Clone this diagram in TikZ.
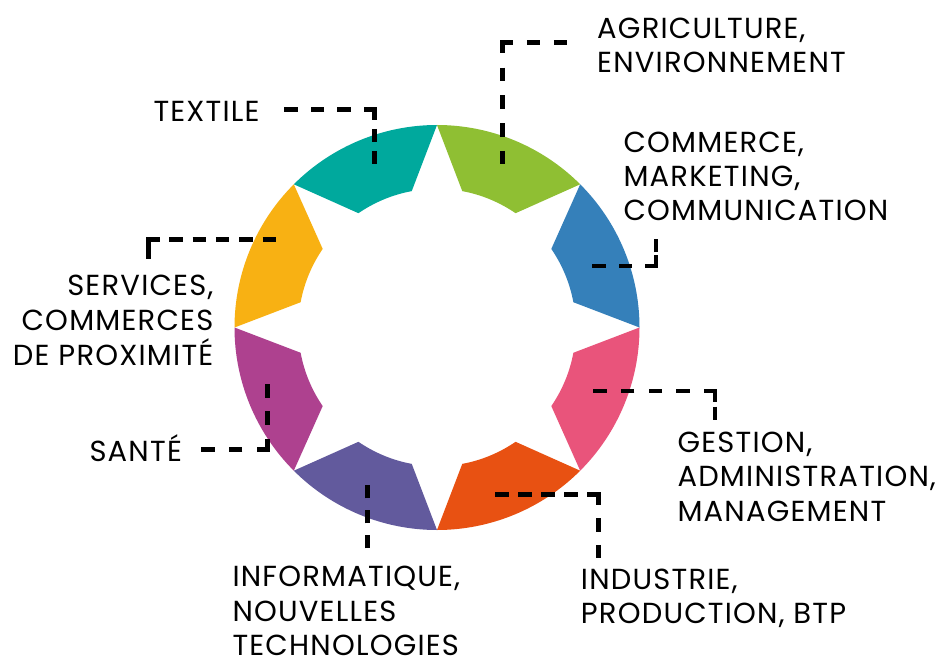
\documentclass[tikz,border=0pt]{standalone}
\usepackage{fontspec}
\setmainfont[LetterSpace=4.2]{Poppins}
\usetikzlibrary{calc}
\definecolor{cteal}{HTML}{00A99D}
\definecolor{cgreen}{HTML}{8FBF33}
\definecolor{cblue}{HTML}{3580BA}
\definecolor{cpink}{HTML}{E9547B}
\definecolor{corange}{HTML}{E85112}
\definecolor{cpurple}{HTML}{625A9D}
\definecolor{cmagenta}{HTML}{AE418F}
\definecolor{cyellow}{HTML}{F8B113}
\tikzset{
  lbl/.style={inner sep=0pt, font=\fontsize{29}{34}\selectfont, text=black},
  lblL/.style={lbl, anchor=base west},
  lblR/.style={lbl, anchor=base east},
  dashline/.style={line width=4.5pt, dash pattern=on 13.5pt off 11.5pt, black}
}
% dashed leg from a corner (#1) to a free end (#2): a part dash at the corner, a full dash at the end
\newcommand\dleg[2]{%
  \path let \p1=($(#2)-(#1)$) in \pgfextra{\pgfmathsetmacro\dlen{veclen(\x1,\y1)}\xdef\dlenglob{\dlen}};%
  \pgfmathsetmacro\dnum{max(1,round((\dlenglob-11)/25))}%
  \pgfmathsetmacro\dgap{(\dlenglob-11)/\dnum-13.5}%
  \draw[line width=4.5pt, black, dash pattern=on 13.5pt off \dgap pt, dash phase=2.5pt] (#1) -- (#2);%
}
\newcommand\dcorner[1]{\fill[black] (#1) +(-2.25pt,-2.25pt) rectangle +(2.25pt,2.25pt);}
\begin{document}
\begin{tikzpicture}[x=1pt,y=1pt]
\useasboundingbox (0,0) rectangle (939,657);
\fill[white] (0,0) rectangle (939,657);
\coordinate (C) at (437,329.5);
% segments
\foreach \a/\col in {90/cteal,45/cgreen,0/cblue,-45/cpink,-90/corange,-135/cpurple,180/cmagenta,135/cyellow}{
  \pgfmathsetmacro{\b}{\a+45}
  \pgfmathsetmacro{\ia}{\a+10.5}
  \pgfmathsetmacro{\ib}{\a+45-10.5}
  \fill[\col] ($(C)+(\a:202.5pt)$) arc[start angle=\a, end angle=\b, radius=202.5pt]
    -- ($(C)+(\ib:138.7pt)$) arc[start angle=\ib, end angle=\ia, radius=138.7pt] -- cycle;
}
% connector end points and corners
\coordinate (t1) at (284,547.5);   \coordinate (t2) at (374.5,492.5);
\coordinate (a1) at (567.3,614.7); \coordinate (a2) at (502.3,492.5);
\coordinate (c1) at (592,391);     \coordinate (c2) at (656,418);
\coordinate (s1) at (276,417.7);   \coordinate (s2) at (148.5,398);
\coordinate (h1) at (201,207.3);   \coordinate (h2) at (267.5,273);
\coordinate (g1) at (593.3,266);   \coordinate (g2) at (715,237);
\coordinate (d1) at (495,162.7);   \coordinate (d2) at (598.3,98.7);
\coordinate (f1) at (367.7,174.3); \coordinate (f2) at (367.7,108.7);
\foreach \q in {t,a,c,s,h,g,d}{
  \coordinate (\q c) at (\q2 |- \q1);
}
\foreach \q in {t,a,c,s,h,g,d}{
  \dleg{\q c}{\q1}
  \dleg{\q c}{\q2}
  \dcorner{\q c}
}
\draw[dashline] (f2) -- (f1);
% labels
\node[lblL] (textile) at (153.3,535.3) {TEXTILE};
\node[lblL] (agri1) at (597,618.7) {AGRICULTURE,};
\node[lblL] (agri2) at (597,584.3) {ENVIRONNEMENT};
\node[lblL] (com1) at (623.3,504.7) {COMMERCE,};
\node[lblL] (com2) at (623.3,470.3) {MARKETING,};
\node[lblL] (com3) at (623.3,436) {COMMUNICATION};
\node[lblR] (serv1) at (213.5,362) {SERVICES,};
\node[lblR] (serv2) at (213.5,326.3) {COMMERCES};
\node[lblR] (serv3) at (213.5,291.3) {DE PROXIMITÉ};
\node[lblL] (sante) at (89.3,195.3) {SANTÉ};
\node[lblL] (ges1) at (677.3,204.7) {GESTION,};
\node[lblL] (ges2) at (677.3,170.3) {ADMINISTRATION,};
\node[lblL] (ges3) at (677.3,135.3) {MANAGEMENT};
\node[lblL] (ind1) at (580.7,67.7) {INDUSTRIE,};
\node[lblL] (ind2) at (580.7,33.7) {PRODUCTION, BTP};
\node[lblL] (inf1) at (232.3,70.3) {INFORMATIQUE,};
\node[lblL] (inf2) at (232.3,35.3) {NOUVELLES};
\node[lblL] (inf3) at (232.3,2) {TECHNOLOGIES};
\end{tikzpicture}
\end{document}
